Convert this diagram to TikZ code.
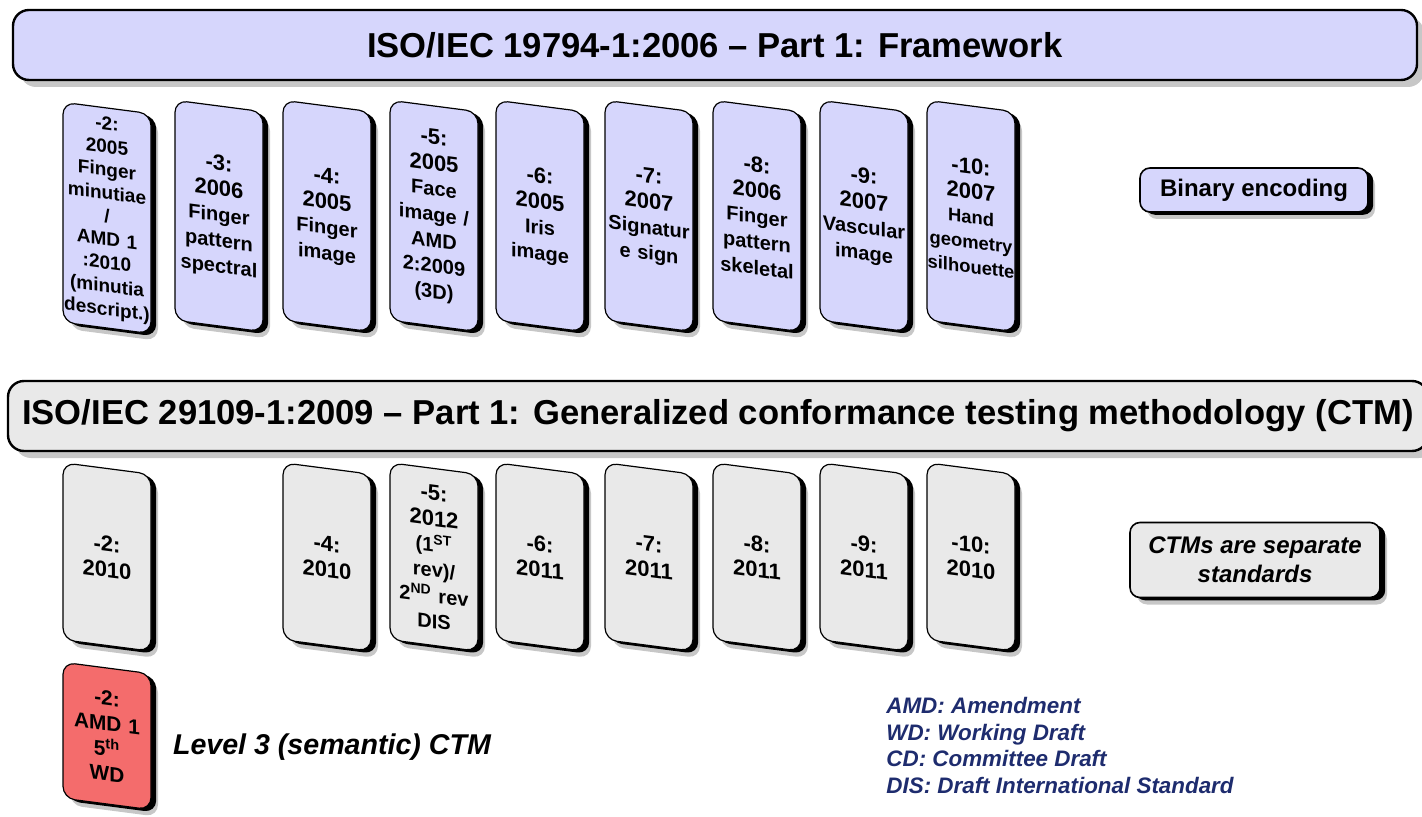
\documentclass[tikz,border=0pt]{standalone}
\usepackage{fontspec}
\setmainfont{Liberation Sans}
\usepackage{tikz}
\usetikzlibrary{shadows}
\definecolor{bioblue}{RGB}{214,214,252}
\definecolor{ctmgray}{RGB}{233,233,233}
\definecolor{ctmred}{RGB}{244,108,108}
\definecolor{notenavy}{RGB}{30,44,110}
\newcommand{\yr}[1]{{\fontsize{11}{13}\selectfont #1}}

\begin{document}
\begin{tikzpicture}[x=0.5pt, y=-0.5pt,
    softshade/.style={general shadow={shadow xshift=3.5pt, shadow yshift=-3.5pt, fill=black, opacity=.22}},
    hardshade/.style={general shadow={shadow xshift=2.6pt, shadow yshift=-1.4pt, fill=black}},
    card/.style={softshade, hardshade, draw=black, line width=.6pt, rounded corners=6pt,
      minimum width=44pt, text width=44pt, inner xsep=0pt, inner ysep=0pt, align=center,
      yslant=-0.13, font=\fontsize{10}{12.8}\selectfont\bfseries},
    fcard/.style={card, fill=bioblue, minimum height=110pt},
    ccard/.style={card, fill=ctmgray, minimum height=88.5pt},
    banner/.style={softshade, draw=black, line width=1.2pt, rounded corners=8pt,
      minimum height=35pt, inner sep=0pt, font=\fontsize{17.3}{20}\selectfont\bfseries},
    tag/.style={softshade, hardshade, draw=black, line width=.8pt, rounded corners=5pt,
      align=center, inner sep=0pt, font=\fontsize{12}{14.5}\selectfont\bfseries}]
  \useasboundingbox (0,0) rectangle (1422,817);

  % part 1 banners
  \node[banner, fill=bioblue, minimum width=702pt] (fw) at (715,45)
    {ISO/IEC 19794-1:2006 -- Part 1: Framework};
  \node[banner, fill=ctmgray, minimum width=710pt] (ctm) at (718,416)
    {ISO/IEC 29109-1:2009 -- Part 1: Generalized conformance testing methodology (CTM)};

  % data formats (19794)
  \node[fcard, font=\fontsize{9.5}{11.6}\selectfont\bfseries] (f2) at (107,218)
    {-2:\\2005\\Finger\\minutiae\\/\\AMD 1\\:2010\\(minutia\\descript.)};
  \node[fcard] (f3) at (219,216) {\yr{-3:}\\\yr{2006}\\Finger\\pattern\\spectral};
  \node[fcard] (f4) at (327,216) {\yr{-4:}\\\yr{2005}\\Finger\\image};
  \node[fcard] (f5) at (434,216) {\yr{-5:}\\\yr{2005}\\Face\\image /\\AMD\\2:2009\\(3D)};
  \node[fcard] (f6) at (540,216) {\yr{-6:}\\\yr{2005}\\Iris\\image};
  \node[fcard] (f7) at (649,216) {\yr{-7:}\\\yr{2007}\\Signatur\\e sign};
  \node[fcard] (f8) at (757,216) {\yr{-8:}\\\yr{2006}\\Finger\\pattern\\skeletal};
  \node[fcard] (f9) at (864,216) {\yr{-9:}\\\yr{2007}\\Vascular\\image};
  \node[fcard, font=\fontsize{9.2}{12.4}\selectfont\bfseries] (f10) at (971,216)
    {\yr{-10:}\\\yr{2007}\\Hand\\geometry\\silhouette};

  \node[tag, fill=bioblue, minimum width=114pt, minimum height=22pt] (bin) at (1254,190) {Binary encoding};

  % conformance testing (29109)
  \foreach \x/\n/\y in {107/2/2010, 327/4/2010, 540/6/2011, 649/7/2011, 757/8/2011, 864/9/2011, 971/10/2010} {
    \node[ccard] (c\n) at (\x,557) {\yr{-\n:}\\\yr{\y}};
  }
  \node[ccard] (c5) at (434,557)
    {\yr{-5:}\\\yr{2012}\\(1\textsuperscript{ST}\\rev)/\\2\textsuperscript{ND} rev\\DIS};
  \node[card, fill=ctmred, minimum height=68pt, font=\fontsize{10.4}{12.6}\selectfont\bfseries] (c2amd) at (107,736)
    {-2:\\AMD 1\\5\textsuperscript{th}\\WD};

  \node[tag, fill=ctmgray, minimum width=125pt, minimum height=37.5pt,
    font=\fontsize{12}{14.5}\selectfont\bfseries\itshape] (sep) at (1255,560) {CTMs are separate\\standards};

  \node[anchor=west, font=\fontsize{14.3}{16}\selectfont\bfseries\itshape] (lvl3) at (166,747)
    {Level 3 (semantic) CTM};
  \node[anchor=north west, align=left, text=notenavy, inner sep=0pt,
    font=\fontsize{11.2}{13.3}\selectfont\bfseries\itshape] (abbr) at (886,697)
    {AMD: Amendment\\WD: Working Draft\\CD: Committee Draft\\DIS: Draft International Standard};
\end{tikzpicture}
\end{document}
